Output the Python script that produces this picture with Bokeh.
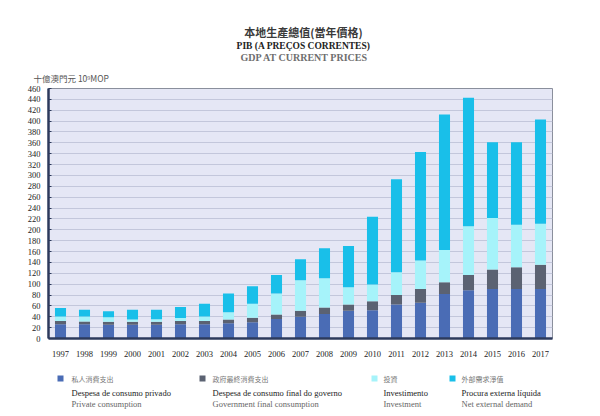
from bokeh.plotting import figure
from bokeh.layouts import column
from bokeh.models import Range1d, FixedTicker
from bokeh.core.properties import value
from bokeh.embed import file_html
from bokeh.resources import INLINE

years = [1997, 1998, 1999, 2000, 2001, 2002, 2003, 2004, 2005, 2006, 2007,
         2008, 2009, 2010, 2011, 2012, 2013, 2014, 2015, 2016, 2017]
private = [26, 26, 25.5, 25.5, 25.5, 26, 26, 28, 30, 36, 40,
           45, 51, 52, 62.5, 66, 82, 89, 91, 91, 91]
government = [6, 5.5, 5.5, 5.5, 5.5, 6, 6, 7, 8, 8, 11,
              12, 11.5, 16.5, 17.5, 25, 21.5, 28, 36, 40, 44.5]
investment = [8.5, 9, 8, 4, 4.5, 5.5, 8.5, 13.5, 26, 39, 56,
              54, 32, 31, 42, 52.5, 59.5, 89.5, 94.5, 78.5, 75.5]
net_external = [15.5, 12.5, 11, 18, 17.5, 20.5, 23.5, 34.5, 32, 34, 39,
                55, 75.5, 124.5, 171, 199.5, 249, 236.5, 139.5, 151.5, 192]
y_ticks = list(range(0, 461, 20))

series = ["private", "government", "investment", "net_external"]
colors = ["#4a6cb5", "#5b6272", "#a6f3fa", "#19bfe9"]
legend_zh = ["私人消費支出", "政府最終消費支出", "投資", "外部需求淨值"]
legend_pt = ["Despesa de consumo privado", "Despesa de consumo final do governo",
             "Investimento", "Procura externa líquida"]
legend_en = ["Private consumption", "Government final consumption",
             "Investment", "Net external demand"]

data = dict(years=years, private=private, government=government,
            investment=investment, net_external=net_external)

SERIF = "Liberation Serif"
CJK = "Noto Sans CJK TC"
W = 600
L, R = 48, 48   # frame left / right borders (page px)
HEAD = 64


def blank(height, y0, y1):
    f = figure(width=W, height=height, output_backend="svg", toolbar_location=None,
               x_range=Range1d(L, W - R), y_range=Range1d(y1, y0),
               x_axis_location=None, y_axis_location=None,
               min_border_left=L, min_border_right=R,
               min_border_top=0, min_border_bottom=0)
    f.xgrid.grid_line_color = None
    f.ygrid.grid_line_color = None
    f.outline_line_color = None
    f.background_fill_color = "white"
    return f


def txt(f, s, x, y, font=SERIF, size="8px", color="#333333", style="normal",
        align="left"):
    f.text(x=[x], y=[y], text=[s], text_font=value(font), text_font_size=size,
           text_color=color, text_font_style=style, text_align=align,
           text_baseline="middle")


# ---------- header ----------
top = blank(HEAD, 0, HEAD)
txt(top, "本地生產總值(當年價格)", 303, 31.5, font=CJK, size="11px", color="#3a3a3a",
    style="bold", align="center")
txt(top, "PIB (A PREÇOS CORRENTES)", 303, 45, size="9.5px", color="#222222",
    style="bold", align="center")
txt(top, "GDP AT CURRENT PRICES", 304, 56.5, size="10px", color="#6e6e6e",
    style="bold", align="center")

# ---------- chart (frame: page y 87..338) ----------
p = figure(width=W, height=360 - HEAD, output_backend="svg", toolbar_location=None,
           x_range=Range1d(1996.5, 2017.5), y_range=Range1d(0, 460),
           min_border_left=L, min_border_right=R, min_border_top=87 - HEAD,
           min_border_bottom=22, title="十億澳門元 10⁹MOP")
p.title.align = "left"
p.title.offset = -15
p.title.text_font = CJK
p.title.text_font_size = "8.5px"
p.title.text_font_style = "normal"
p.title.text_color = "#555555"
p.title.standoff = 10

p.vbar_stack(series, x="years", width=0.46, color=colors, source=data,
             line_color=None)

p.background_fill_color = "#e5e7f5"
p.border_fill_color = "white"
p.outline_line_color = "#8a8f9c"
p.outline_line_width = 1

p.xgrid.grid_line_color = None
p.ygrid.ticker = FixedTicker(ticks=y_ticks)
p.ygrid.grid_line_color = "#c3c7db"
p.ygrid.grid_line_width = 1

p.yaxis.ticker = FixedTicker(ticks=y_ticks)
p.yaxis.axis_line_color = "#2c3a5c"
p.yaxis.axis_line_width = 2.5
p.yaxis.major_tick_in = 3
p.yaxis.major_tick_out = 0
p.yaxis.major_tick_line_color = "#2c3a5c"
p.yaxis.minor_tick_line_color = None
p.yaxis.major_label_text_font = SERIF
p.yaxis.major_label_text_font_size = "8.5px"
p.yaxis.major_label_text_color = "#222222"
p.yaxis.major_label_standoff = 8

p.xaxis.ticker = FixedTicker(ticks=years)
p.xaxis.major_label_overrides = {y: str(y) for y in years}
p.xaxis.axis_line_color = "#2c3a5c"
p.xaxis.axis_line_width = 2.5
p.xaxis.major_tick_line_color = None
p.xaxis.minor_tick_line_color = None
p.xaxis.major_label_text_font = SERIF
p.xaxis.major_label_text_font_size = "8.5px"
p.xaxis.major_label_text_color = "#222222"
p.xaxis.major_label_standoff = 6

# ---------- legend (page y 360..416) ----------
leg = blank(56, 360, 416)
swatch_x = [60, 202, 374, 452]
text_x = [71, 212, 383, 461]
for i in range(4):
    leg.rect(x=[swatch_x[i]], y=[378], width=6, height=6, fill_color=colors[i],
             line_color=None)
    txt(leg, legend_zh[i], text_x[i], 378, font=CJK, size="7px", color="#777777")
    txt(leg, legend_pt[i], text_x[i], 392, size="8.5px", color="#222222")
    txt(leg, legend_en[i], text_x[i], 403, size="8.5px", color="#666666")

layout = column(top, p, leg, spacing=0)
open("out.html", "w").write(file_html(layout, INLINE))
